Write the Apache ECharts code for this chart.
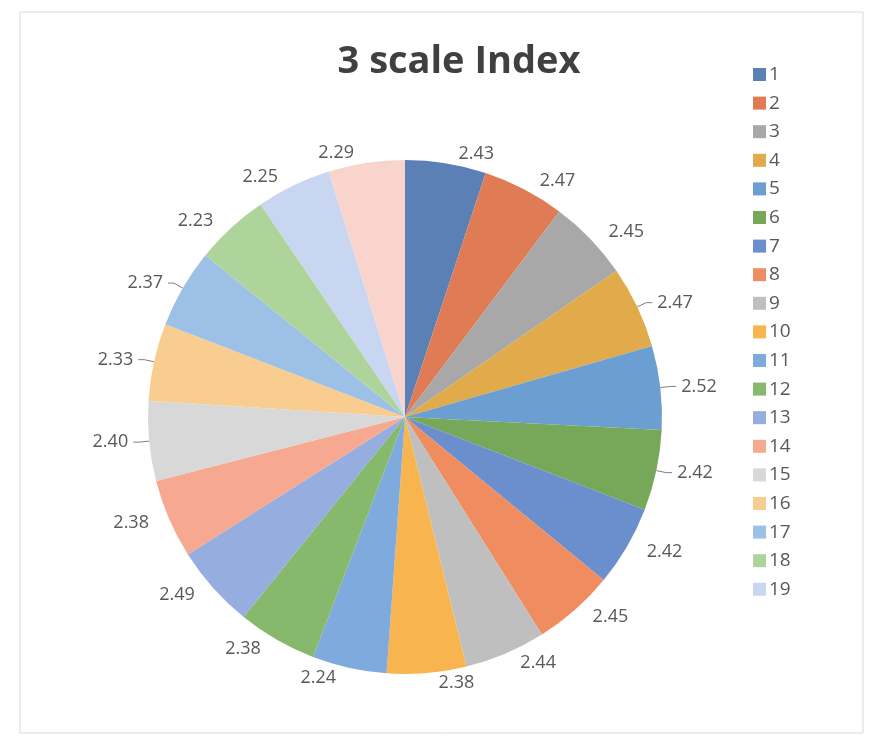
<!DOCTYPE html>
<html><head><meta charset="utf-8">
<script src="https://cdn.jsdelivr.net/npm/echarts@6/dist/echarts.min.js"></script>
<style>html,body{margin:0;padding:0;background:#fff;}#c{width:876px;height:744px;}</style>
</head><body><div id="c"></div>
<script>
const categories = ['1','2','3','4','5','6','7','8','9','10','11','12','13','14','15','16','17','18','19','20'];
const values = [2.43,2.47,2.45,2.47,2.52,2.42,2.42,2.45,2.44,2.38,2.24,2.38,2.49,2.38,2.40,2.33,2.37,2.23,2.25,2.29];
const legendItems = categories.slice(0,19);
const colors = ['#5b80b6','#e07c55','#a8a8a8','#e1aa4a','#6b9fd2','#77a85a','#6a8fcc','#f08d60','#bfbfbf','#f8b44e','#7eaade','#86b96c','#95addf','#f6a890','#d8d8d8','#f9cd90','#9dc1e6','#aed49b','#c9d6f1','#f8d4cd'];
const leaderShown = [3,4,5,14,15,16];

const chart = echarts.init(document.getElementById('c'));
chart.setOption({
  backgroundColor:'#ffffff',
  color: colors,
  title:{text:'3 scale Index',left:454,top:38,textAlign:'center',textStyle:{fontFamily:'Open Sans',fontWeight:'bold',fontSize:38,color:'#404040'}},
  legend:{orient:'vertical',left:748,top:60,itemWidth:13,itemHeight:13,itemGap:9.6,icon:'rect',data:legendItems,
    textStyle:{fontFamily:'Open Sans',fontSize:19,color:'#595959',padding:[0,0,0,-2]}},
  graphic:[{type:'rect',shape:{x:20,y:12,width:843,height:721},style:{fill:'none',stroke:'#d9d9d9',lineWidth:1}}],
  series:[{type:'pie',center:[405,417],radius:[0,257],startAngle:90,clockwise:true,
    data: categories.map((c,i)=>({name:c,value:values[i],labelLine:{show:leaderShown.includes(i)}})),
    label:{show:true,position:'outside',formatter:p=>p.value.toFixed(2),fontFamily:'Open Sans',fontSize:18,color:'#595959'},
    labelLine:{show:true,length:10,length2:6,lineStyle:{color:'#808080',width:1}},
    itemStyle:{borderWidth:0},
    emphasis:{disabled:true}
  }]
});
</script></body></html>
